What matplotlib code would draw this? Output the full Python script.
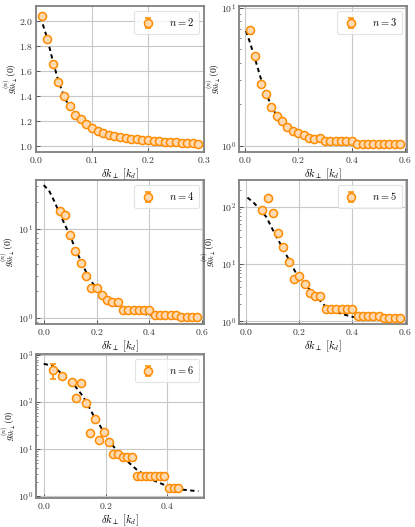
# g^(n) correlation vs. delta k_perp, five panels (n = 2..6)
import numpy as np
import matplotlib
matplotlib.use("Agg")
import matplotlib.pyplot as plt

plt.rcParams['font.family'] = 'serif'
plt.rcParams['font.serif'] = ['cmr10', 'DejaVu Serif']
plt.rcParams['mathtext.fontset'] = 'cm'
plt.rcParams['axes.formatter.use_mathtext'] = True

# ---- data ----
# n = 2
dk2 = [0.01, 0.02, 0.03, 0.04, 0.05, 0.06, 0.07, 0.08, 0.09, 0.10,
       0.11, 0.12, 0.13, 0.14, 0.15, 0.16, 0.17, 0.18, 0.19, 0.20,
       0.21, 0.22, 0.23, 0.24, 0.25, 0.26, 0.27, 0.28, 0.29]
g2 = [2.037, 1.856, 1.653, 1.512, 1.403, 1.320, 1.253, 1.219, 1.181, 1.149,
      1.125, 1.107, 1.093, 1.083, 1.072, 1.064, 1.059, 1.059, 1.053, 1.053,
      1.043, 1.043, 1.035, 1.035, 1.035, 1.027, 1.027, 1.027, 1.021]
fit2_x = [0.008, 0.02, 0.03, 0.04, 0.05, 0.06, 0.07, 0.08, 0.09, 0.10,
          0.11, 0.12, 0.13, 0.14, 0.16, 0.18, 0.20, 0.22, 0.25, 0.29]
fit2_y = [2.03, 1.86, 1.68, 1.52, 1.40, 1.31, 1.25, 1.20, 1.16, 1.13,
          1.11, 1.09, 1.075, 1.065, 1.05, 1.04, 1.035, 1.03, 1.02, 1.015]

# n = 3
dk3 = [0.02, 0.04, 0.06, 0.08, 0.10, 0.12, 0.14, 0.16, 0.18, 0.20,
       0.22, 0.24, 0.26, 0.28, 0.30, 0.32, 0.34, 0.36, 0.38, 0.40,
       0.42, 0.44, 0.46, 0.48, 0.50, 0.52, 0.54, 0.56, 0.58]
g3 = [6.88, 4.45, 2.81, 2.39, 1.90, 1.65, 1.52, 1.37, 1.28, 1.25,
      1.20, 1.15, 1.13, 1.14, 1.08, 1.08, 1.08, 1.08, 1.08, 1.08,
      1.03, 1.03, 1.03, 1.03, 1.03, 1.03, 1.03, 1.03, 1.03]
fit3_x = [0.005, 0.02, 0.04, 0.06, 0.08, 0.10, 0.12, 0.14, 0.16, 0.18,
          0.20, 0.25, 0.30, 0.40, 0.50, 0.58]
fit3_y = [6.8, 5.6, 4.2, 3.1, 2.4, 1.95, 1.65, 1.45, 1.33, 1.25,
          1.19, 1.11, 1.07, 1.04, 1.02, 1.01]

# n = 4
dk4 = [0.06, 0.08, 0.10, 0.12, 0.14, 0.16, 0.18, 0.20, 0.22, 0.24,
       0.26, 0.28, 0.30, 0.32, 0.34, 0.36, 0.38, 0.40, 0.42, 0.44,
       0.46, 0.48, 0.50, 0.52, 0.54, 0.56, 0.58]
g4 = [15.8, 14.2, 8.5, 5.7, 4.16, 2.98, 2.15, 2.2, 1.81, 1.58,
      1.51, 1.51, 1.23, 1.23, 1.23, 1.23, 1.23, 1.23, 1.08, 1.08,
      1.08, 1.08, 1.08, 1.04, 1.04, 1.04, 1.04]
fit4_x = [0.0, 0.02, 0.04, 0.06, 0.08, 0.10, 0.12, 0.14, 0.16, 0.18,
          0.20, 0.22, 0.25, 0.30, 0.40, 0.50, 0.58]
fit4_y = [31, 27, 20.5, 15.0, 11.2, 8.3, 6.0, 4.4, 3.3, 2.6,
          2.1, 1.8, 1.5, 1.25, 1.08, 1.03, 1.02]

# n = 5
dk5 = [0.06, 0.08, 0.10, 0.12, 0.14, 0.16, 0.18, 0.20, 0.22, 0.24,
       0.26, 0.28, 0.30, 0.32, 0.34, 0.36, 0.38, 0.40, 0.42, 0.44,
       0.46, 0.48, 0.50, 0.52, 0.54, 0.56, 0.58]
g5 = [88.6, 140, 79.6, 35.5, 19.9, 11.1, 5.4, 6.3, 4.5, 3.14,
      2.82, 2.82, 1.65, 1.65, 1.65, 1.65, 1.65, 1.65, 1.24, 1.24,
      1.24, 1.24, 1.24, 1.13, 1.13, 1.13, 1.13]
fit5_x = [0.004, 0.03, 0.075, 0.107, 0.132, 0.17, 0.19, 0.24, 0.30, 0.35,
          0.40, 0.50, 0.58]
fit5_y = [145, 115, 67, 34, 21, 9.9, 6.6, 3.55, 1.8, 1.4,
          1.2, 1.12, 1.1]

# n = 6
dk6 = [0.03, 0.06, 0.09, 0.105, 0.12, 0.135, 0.15, 0.165, 0.18, 0.195,
       0.21, 0.225, 0.24, 0.255, 0.27, 0.285, 0.30, 0.315, 0.33, 0.345,
       0.36, 0.375, 0.39, 0.405, 0.42, 0.435]
g6 = [481, 359, 264, 121, 251, 98, 21.9, 43.4, 15.8, 23.4,
      14.1, 8.0, 8.0, 6.8, 6.8, 6.8, 2.65, 2.65, 2.65, 2.65,
      2.65, 2.65, 2.65, 1.53, 1.53, 1.53]
# only the first n=6 point has a visible error bar
err6_x = [0.03]
err6_y = [481]
err6 = [170]
fit6_x = [0.0, 0.03, 0.062, 0.094, 0.127, 0.148, 0.165, 0.18, 0.20, 0.225,
          0.25, 0.275, 0.30, 0.35, 0.40, 0.45, 0.50]
fit6_y = [650, 584, 380, 252, 132, 75, 46, 33, 20, 11.5,
          7.6, 5.2, 3.7, 2.25, 1.63, 1.38, 1.28]

# ---- figure ----
W, H = 415, 527
fig = plt.figure(figsize=(W / 100, H / 100), dpi=100)

def box(l, r, t, b):
    return [l / W, 1 - b / H, (r - l) / W, (b - t) / H]

orange = '#ff8c00'
face = '#ffd9b2'
mk = dict(ms=5.8, mfc=face, mec=orange, mew=1.1)
eb = dict(ecolor=orange, elinewidth=1.1, capsize=2, capthick=1.1)

def panel(rect, x, y, fx, fy, n, xlim, ylim, xticks, log=True,
          ex=None, ey=None, err=None, ylx=-0.1):
    ax = fig.add_axes(rect)
    ax.plot(fx, fy, color='k', ls=(0, (2.2, 1.8)), lw=1.4, zorder=2)
    if ex is not None:
        ax.errorbar(ex, ey, yerr=err, fmt='none', zorder=3, **eb)
    ax.plot(x, y, 'o', zorder=4, **mk)
    # legend handle: marker with error bar
    ax.errorbar([np.nan], [np.nan], yerr=[1], fmt='o', label='$n = %d$' % n,
                **mk, **eb)
    if log:
        ax.set_yscale('log')
    ax.set_xlim(*xlim)
    ax.set_ylim(*ylim)
    ax.set_xticks(xticks)
    ax.grid(True, which='major', color='#c8c8c8', lw=0.8)
    ax.set_axisbelow(True)
    ax.tick_params(direction='in', labelsize=7, length=3, width=0.7, pad=2,
                   colors='#555555', labelcolor='#333333')
    ax.tick_params(which='minor', direction='in', length=1.5, width=0.5,
                   colors='#555555')
    for s in ax.spines.values():
        s.set_color('#808080')
        s.set_linewidth(1.3)
    ax.set_xlabel(r'$\delta k_\perp\ [k_d]$', fontsize=7.5, labelpad=1)
    ax.set_ylabel(r'$g^{(n)}_{\delta k_\perp}(0)$', fontsize=7)
    ax.yaxis.set_label_coords(ylx, 0.5)
    leg = ax.legend(loc='upper right', fontsize=7.5, handlelength=1.6,
                    borderpad=0.5, handletextpad=1.2, fancybox=True)
    leg.get_frame().set_edgecolor('#dddddd')
    leg.get_frame().set_linewidth(0.8)
    return ax

ax2 = panel(box(36, 204, 6, 152), dk2, g2, fit2_x, fit2_y, 2,
            (0.0, 0.3), (0.955, 2.117), [0.0, 0.1, 0.2, 0.3], log=False,
            ylx=-0.095)
ax2.set_yticks([1.0, 1.2, 1.4, 1.6, 1.8, 2.0])

panel(box(239, 407, 6, 152), dk3, g3, fit3_x, fit3_y, 3,
      (-0.021, 0.606), (0.904, 10.3), [0.0, 0.2, 0.4, 0.6], ylx=-0.095)
panel(box(36, 204, 180, 324), dk4, g4, fit4_x, fit4_y, 4,
      (-0.029, 0.606), (0.857, 35.4), [0.0, 0.2, 0.4, 0.6], ylx=-0.115)
panel(box(239, 407, 180, 324), dk5, g5, fit5_x, fit5_y, 5,
      (-0.028, 0.607), (0.90, 294), [0.0, 0.2, 0.4, 0.6], ylx=-0.125)
panel(box(36, 204, 354, 498), dk6, g6, fit6_x, fit6_y, 6,
      (-0.025, 0.518), (0.92, 1050), [0.0, 0.2, 0.4],
      ex=err6_x, ey=err6_y, err=err6, ylx=-0.105)

fig.savefig('out.png', dpi=100)
